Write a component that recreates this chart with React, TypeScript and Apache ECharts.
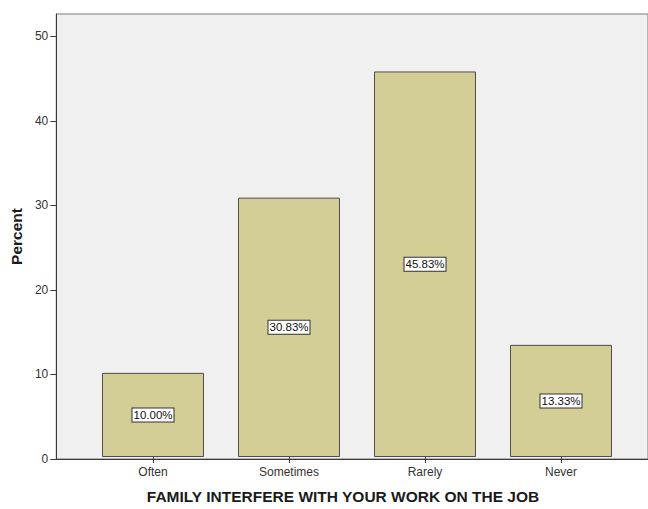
import React, { useEffect, useRef } from "react";
import * as echarts from "echarts";

const categories = ["Often", "Sometimes", "Rarely", "Never"];
const percentValues = [10.0, 30.83, 45.83, 13.33];
const yTickValues = [0, 10, 20, 30, 40, 50];
const xTitle = "FAMILY INTERFERE WITH YOUR WORK ON THE JOB";
const yTitle = "Percent";

const FONT = "'Liberation Sans', Arial, sans-serif";
const Y_MAX = 52.66;

export default function App() {
  const ref = useRef<HTMLDivElement>(null);

  useEffect(() => {
    if (!ref.current) return;
    const chart = echarts.init(ref.current, null, { renderer: "svg" });
    chart.setOption({
      animation: false,
      backgroundColor: "#ffffff",
      grid: [
        {
          left: 54,
          right: -12,
          top: 14,
          bottom: 50,
          show: true,
          backgroundColor: "#f0f0f0",
          borderColor: "#7a7a7a",
          borderWidth: 1,
        },
        { left: 85, right: 19, top: 14, bottom: 50 },
      ],
      xAxis: [
        {
          gridIndex: 0,
          type: "value",
          min: 0,
          max: 1,
          axisLine: { show: true, lineStyle: { color: "#3a3a3a", width: 1 } },
          axisTick: { show: false },
          axisLabel: { show: false },
          splitLine: { show: false },
        },
        {
          gridIndex: 1,
          type: "category",
          data: categories,
          axisLine: { show: false },
          axisTick: { show: true, alignWithLabel: true, length: 6, lineStyle: { color: "#3a3a3a" } },
          axisLabel: { color: "#333", fontSize: 12, margin: 9, fontFamily: FONT },
          name: xTitle,
          nameLocation: "middle",
          nameGap: 31,
          nameTextStyle: {
            fontSize: 15.5,
            fontWeight: "bold",
            color: "#1a1a1a",
            fontFamily: FONT,
            padding: [0, 28, 0, 0],
          },
        },
      ],
      yAxis: [
        {
          gridIndex: 0,
          type: "value",
          min: 0,
          max: Y_MAX,
          interval: 10,
          axisLine: { show: true, lineStyle: { color: "#3a3a3a", width: 1 } },
          axisTick: { show: true, length: 6, customValues: yTickValues, lineStyle: { color: "#3a3a3a" } },
          axisLabel: { color: "#333", fontSize: 12, margin: 8, fontFamily: FONT, customValues: yTickValues },
          splitLine: { show: false },
          name: yTitle,
          nameLocation: "middle",
          nameGap: 29,
          nameTextStyle: { fontSize: 15.5, fontWeight: "bold", color: "#1a1a1a", fontFamily: FONT },
        },
        {
          gridIndex: 1,
          type: "value",
          min: 0,
          max: Y_MAX,
          show: false,
          splitLine: { show: false },
        },
      ],
      series: [
        {
          type: "bar",
          xAxisIndex: 1,
          yAxisIndex: 1,
          data: percentValues,
          barWidth: "75%",
          itemStyle: { color: "#d3cd96", borderColor: "#4d4d4d", borderWidth: 1 },
          label: {
            show: true,
            position: "inside",
            formatter: (p: any) => Number(p.value).toFixed(2) + "%",
            backgroundColor: "#ffffff",
            borderColor: "#333333",
            borderWidth: 1,
            padding: [1, 1, 0, 1],
            fontSize: 11.5,
            color: "#111",
            fontFamily: FONT,
          },
        },
      ],
    });
    return () => chart.dispose();
  }, []);

  return (
    <div
      ref={ref}
      style={{ position: "fixed", left: 0, top: 0, width: 648, height: 509 }}
    />
  );
}
